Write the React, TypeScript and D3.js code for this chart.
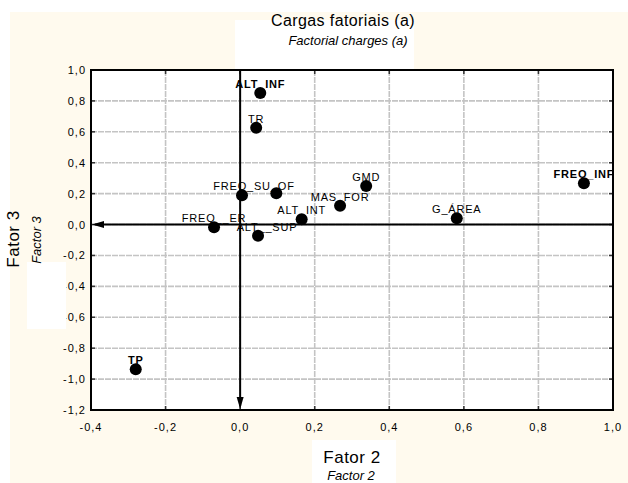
import React from "react";
import * as d3 from "d3";

// Factor loadings (Factor 2 = x, Factor 3 = y)
const labels = [
  "ALT_INF",
  "TR",
  "FREQ_SU_OF",
  "",
  "GMD",
  "MAS_FOR",
  "ALT_INT",
  "FREQ__ER",
  "ALT__SUP",
  "G_ÁREA",
  "FREQ_INF",
  "TP",
];
const factor2 = [0.054, 0.043, 0.005, 0.097, 0.338, 0.268, 0.165, -0.07, 0.048, 0.581, 0.922, -0.28];
const factor3 = [0.851, 0.627, 0.189, 0.202, 0.249, 0.122, 0.034, -0.018, -0.072, 0.04, 0.267, -0.937];
const boldLabels = ["ALT_INF", "FREQ_INF", "TP"];

const xTicks = [-0.4, -0.2, 0, 0.2, 0.4, 0.6, 0.8, 1.0];
const yTicks = [-1.2, -1.0, -0.8, -0.6, -0.4, -0.2, 0, 0.2, 0.4, 0.6, 0.8, 1.0];

const W = 628;
const H = 483;
const plot = { left: 91, right: 613, top: 70, bottom: 410 };

// overlapping labels in the source sit a little off their point
const labelNudge: Record<string, number> = { FREQ_SU_OF: 12, ALT__SUP: 9 };

const fmt = (v: number) => d3.format(".1f")(v).replace(".", ",").replace("−", "-");

export default function App() {
  const x = d3.scaleLinear().domain([-0.4, 1.0]).range([plot.left, plot.right]);
  const y = d3.scaleLinear().domain([-1.2, 1.0]).range([plot.bottom, plot.top]);
  const x0 = x(0);
  const y0 = y(0);
  const font = "'Liberation Sans', Arial, sans-serif";

  return (
    <svg
      width={W}
      height={H}
      style={{ position: "absolute", left: 0, top: 0, fontFamily: font }}
    >
      <rect x={0} y={0} width={W} height={H} fill="#ffffff" />
      <rect x={10} y={12} width={W - 10} height={H - 12} fill="#fffaee" />
      {/* plot background */}
      <rect
        x={plot.left}
        y={plot.top}
        width={plot.right - plot.left}
        height={plot.bottom - plot.top}
        fill="#ffffff"
      />
      {/* white patches around titles */}
      <rect x={235} y={20} width={179} height={50} fill="#ffffff" />
      <rect x={312} y={440} width={84} height={43} fill="#ffffff" />

      {/* grid */}
      <g stroke="#c4c4c4" strokeWidth={1.6} strokeDasharray="6,1">
        {xTicks.slice(1, -1).map((t) => (
          <line key={"gx" + t} x1={x(t)} x2={x(t)} y1={plot.top} y2={plot.bottom} />
        ))}
        {yTicks.slice(1, -1).map((t) => (
          <line key={"gy" + t} x1={plot.left} x2={plot.right} y1={y(t)} y2={y(t)} />
        ))}
      </g>

      {/* tick marks on the frame */}
      <g stroke="#333" strokeWidth={1.5}>
        {xTicks.map((t) => (
          <g key={"tx" + t}>
            <line x1={x(t)} x2={x(t)} y1={plot.top} y2={plot.top + 4} />
            <line x1={x(t)} x2={x(t)} y1={plot.bottom} y2={plot.bottom - 4} />
          </g>
        ))}
        {yTicks.map((t) => (
          <g key={"ty" + t}>
            <line x1={plot.left} x2={plot.left + 4} y1={y(t)} y2={y(t)} />
            <line x1={plot.right} x2={plot.right - 4} y1={y(t)} y2={y(t)} />
          </g>
        ))}
      </g>

      {/* origin axes with arrows */}
      <g stroke="#000" strokeWidth={2}>
        <line x1={x0} x2={x0} y1={plot.top} y2={plot.bottom - 4} />
        <line x1={plot.right} x2={plot.left + 4} y1={y0} y2={y0} />
      </g>
      <path
        d={`M${x0},${plot.bottom - 1} L${x0 - 3.5},${plot.bottom - 13} L${x0 + 3.5},${plot.bottom - 13} Z`}
        fill="#000"
      />
      <path
        d={`M${plot.left + 1},${y0} L${plot.left + 13},${y0 - 3.5} L${plot.left + 13},${y0 + 3.5} Z`}
        fill="#000"
      />

      {/* frame */}
      <rect
        x={plot.left}
        y={plot.top}
        width={plot.right - plot.left}
        height={plot.bottom - plot.top}
        fill="none"
        stroke="#000"
        strokeWidth={2}
      />

      <defs>
        <clipPath id="plotClip">
          <rect
            x={plot.left}
            y={plot.top}
            width={plot.right - plot.left}
            height={plot.bottom - plot.top}
          />
        </clipPath>
      </defs>

      {/* points */}
      <g>
        {labels.map((l, i) => (
          <circle key={"p" + i} cx={x(factor2[i])} cy={y(factor3[i])} r={6} fill="#000" />
        ))}
      </g>
      <g clipPath="url(#plotClip)" fontSize={11} letterSpacing={0.8} fill="#000">
        {labels.map((l, i) =>
          l ? (
            <text
              key={"l" + i}
              x={x(factor2[i]) + (labelNudge[l] || 0)}
              y={y(factor3[i]) - 5}
              textAnchor="middle"
              fontWeight={boldLabels.includes(l) ? "bold" : "normal"}
            >
              {l}
            </text>
          ) : null
        )}
      </g>

      {/* tick labels */}
      <g fontSize={11} letterSpacing={1} fill="#000">
        {xTicks.map((t) => (
          <text key={"xl" + t} x={x(t)} y={431} textAnchor="middle">
            {fmt(t)}
          </text>
        ))}
        {yTicks.map((t) => (
          <text key={"yl" + t} x={86} y={y(t) + 4} textAnchor="end">
            {fmt(t)}
          </text>
        ))}
      </g>
      {/* white patch behind the y title (covers part of the labels, as in the source) */}
      <rect x={27} y={262} width={39} height={67} fill="#ffffff" />

      {/* titles */}
      <text x={343} y={26} textAnchor="middle" fontSize={16} letterSpacing={0.4}>
        Cargas fatoriais (a)
      </text>
      <text x={348} y={45} textAnchor="middle" fontSize={13} fontStyle="italic">
        Factorial charges (a)
      </text>
      <text x={352} y={463} textAnchor="middle" fontSize={17} letterSpacing={0.5}>
        Fator 2
      </text>
      <text x={351} y={480} textAnchor="middle" fontSize={13} fontStyle="italic">
        Factor 2
      </text>
      <text
        transform={`translate(19,239) rotate(-90)`}
        textAnchor="middle"
        fontSize={17}
        letterSpacing={0.5}
      >
        Fator 3
      </text>
      <text
        transform={`translate(41,240) rotate(-90)`}
        textAnchor="middle"
        fontSize={13}
        fontStyle="italic"
      >
        Factor 3
      </text>
    </svg>
  );
}
